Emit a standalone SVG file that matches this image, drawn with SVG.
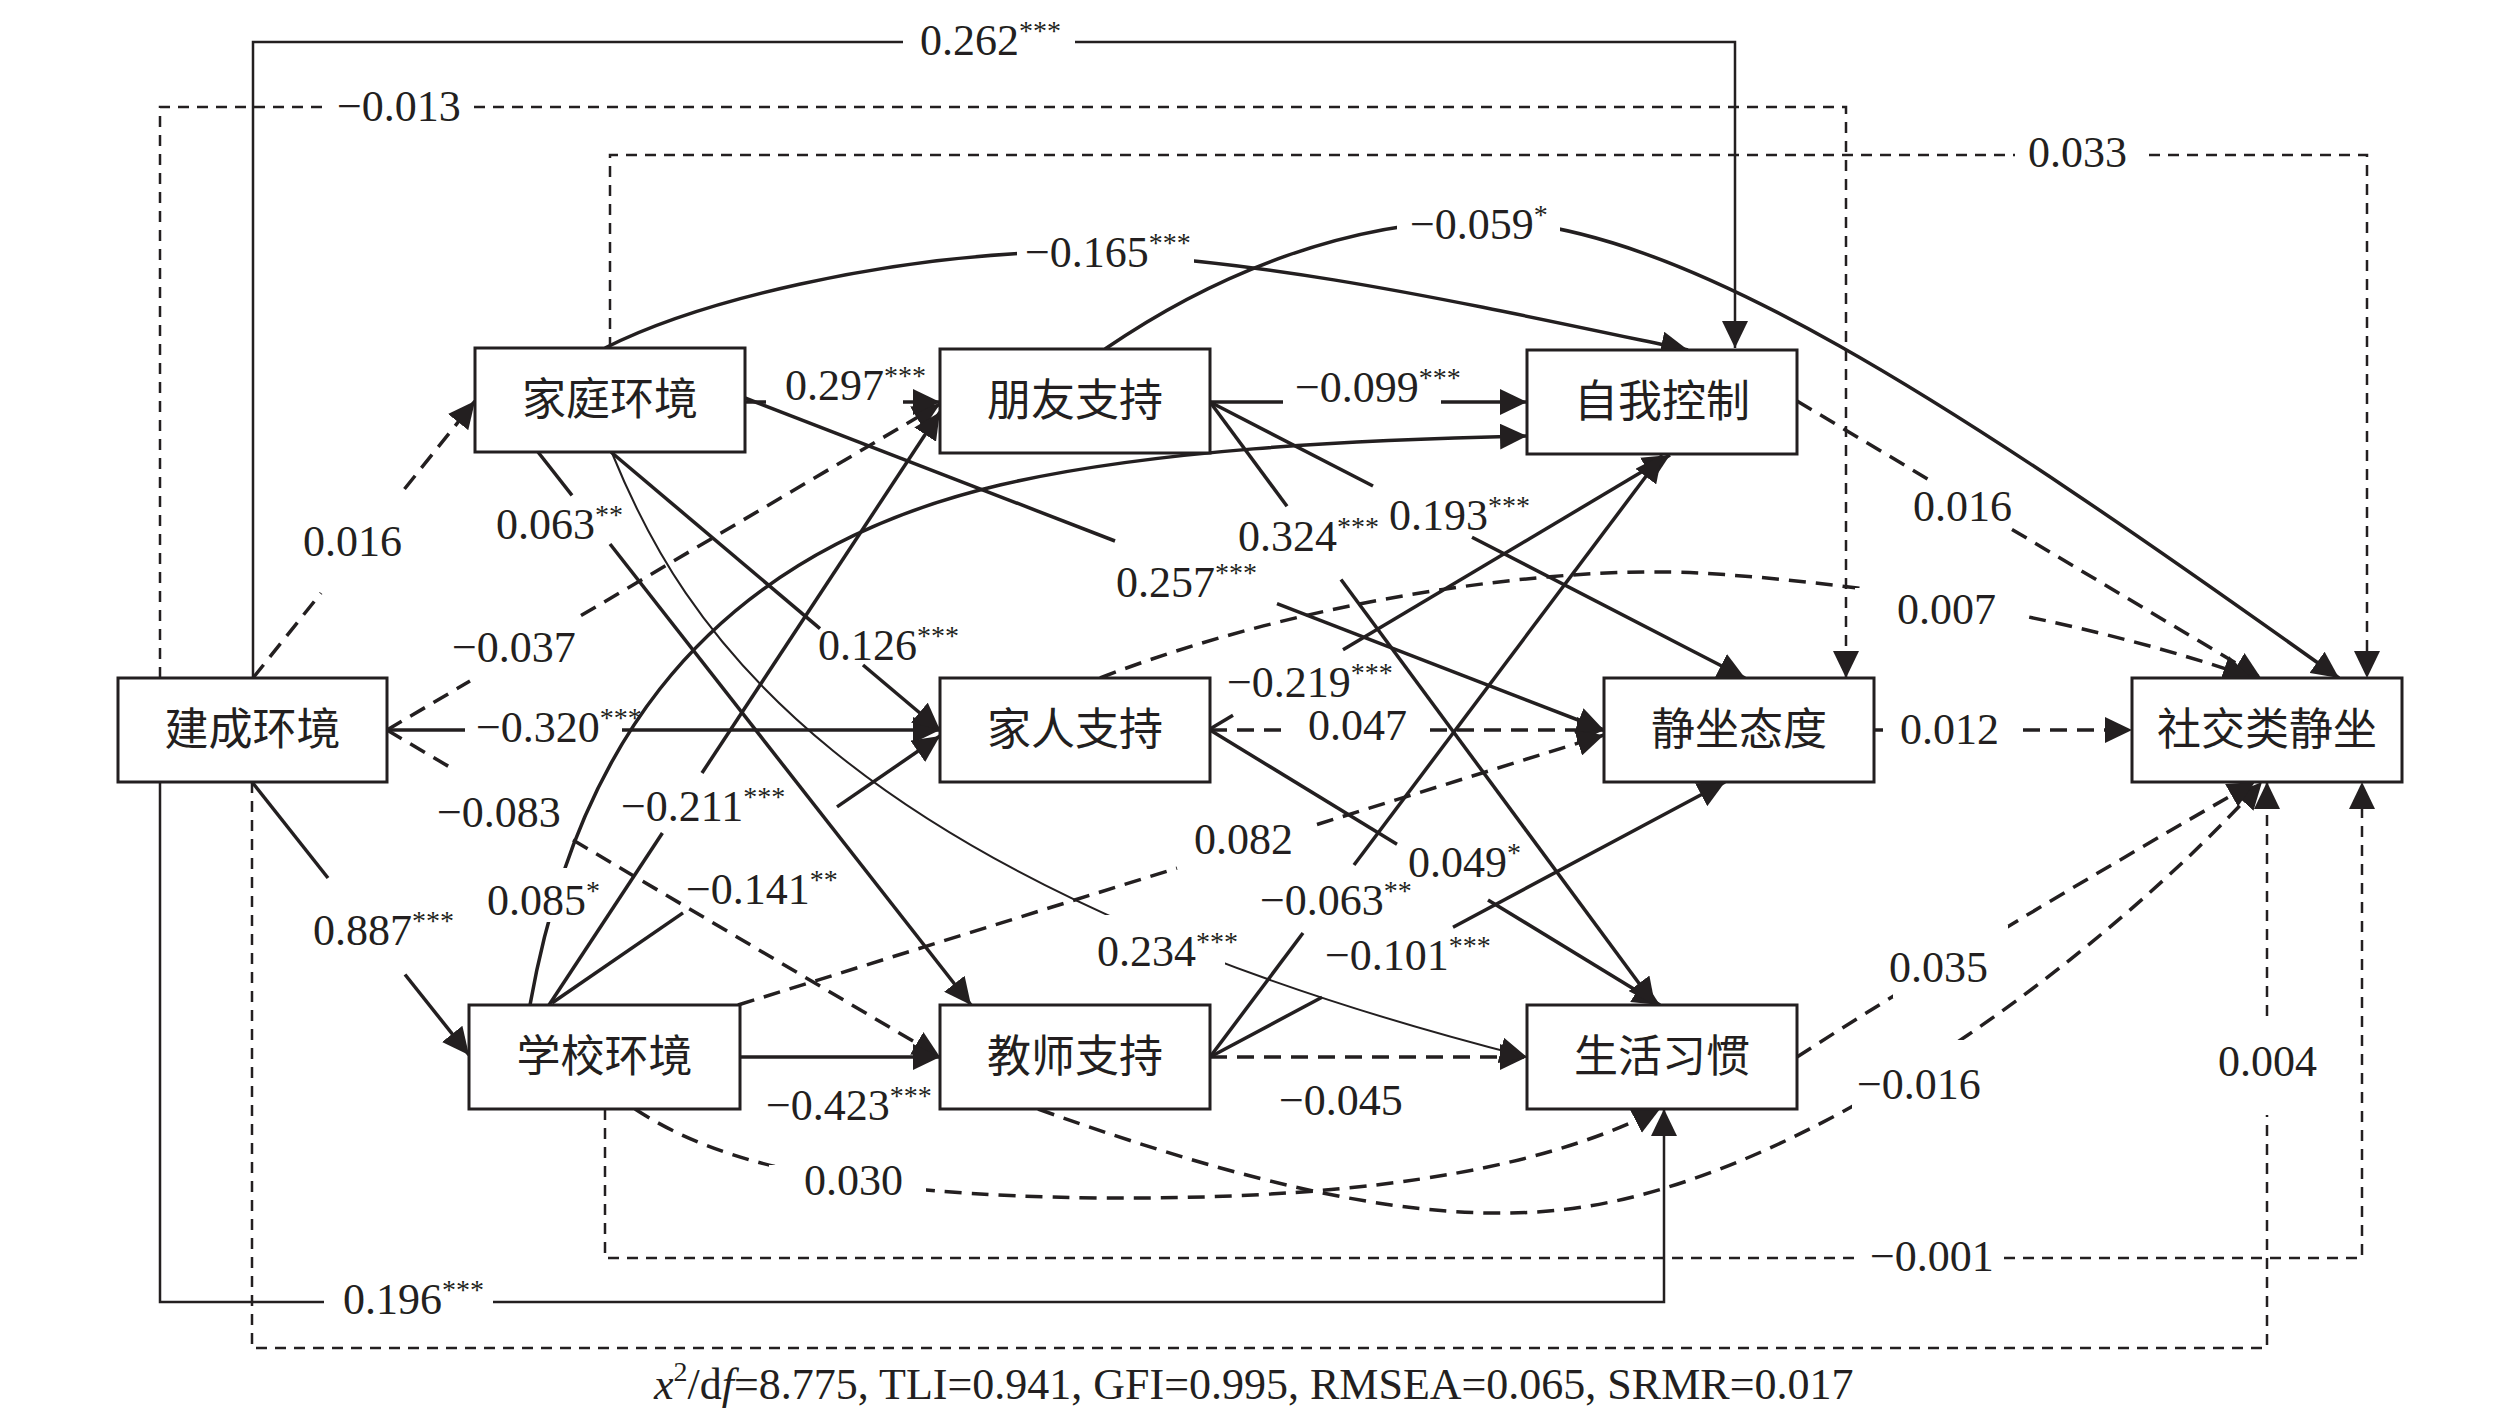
<svg xmlns="http://www.w3.org/2000/svg" width="2520" height="1419" viewBox="0 0 2520 1419">
<style>
.s{fill:none;stroke:#231f20;stroke-width:3.5}
.d{fill:none;stroke:#231f20;stroke-width:3.5;stroke-dasharray:17 10}
.st{fill:none;stroke:#231f20;stroke-width:2.5}
.dt{fill:none;stroke:#231f20;stroke-width:2.5;stroke-dasharray:11 8}
.thin{fill:none;stroke:#231f20;stroke-width:2}
.gap{fill:#fff;stroke:none}
.lbl{font-family:"Liberation Serif","Times New Roman",serif;font-size:44px;fill:#231f20}
.sup{font-size:28px}
.node rect{fill:#fff;stroke:#231f20;stroke-width:3}
.node text{font-family:"Noto Sans CJK SC","Noto Sans CJK JP",sans-serif;font-size:44px;text-anchor:middle;fill:#231f20}
</style>
<defs>
<marker id="ah" viewBox="0 0 27 26" refX="27" refY="13" markerWidth="27" markerHeight="26" markerUnits="userSpaceOnUse" orient="auto">
<path d="M0,0 L27,13 L0,26 Z" fill="#231f20"/>
</marker>
</defs>
<rect width="2520" height="1419" fill="#fff"/>
<g id="connectors">
<!-- routed edges -->
<path class="st" d="M253,678 V42 H903"/><path class="st" d="M1075,42 H1735 V348" marker-end="url(#ah)"/>
<path class="dt" d="M160,678 V107 H330"/><path class="dt" d="M474,107 H1846 V678" marker-end="url(#ah)"/>
<path class="dt" d="M610,348 V155 H2015"/><path class="dt" d="M2149,155 H2367 V678" marker-end="url(#ah)"/>
<path class="st" d="M160,782 V1302 H324"/><path class="st" d="M493,1302 H1664 V1109" marker-end="url(#ah)"/>
<path class="dt" d="M252,782 V1348 H2267 V1115"/><path class="dt" d="M2267,1016 V782" marker-end="url(#ah)"/>
<path class="dt" d="M605,1109 V1258 H1860"/><path class="dt" d="M2004,1258 H2362 V782" marker-end="url(#ah)"/>
<!-- straight edges -->
<path class="d" d="M253,678 L321,593"/><path class="d" d="M404.5,489 L475,401" marker-end="url(#ah)"/>
<path class="s" d="M252,782 L328,878"/><path class="s" d="M405,974.5 L469,1055" marker-end="url(#ah)"/>
<path class="s" d="M387,730 H465"/><path class="s" d="M622,730 H940" marker-end="url(#ah)"/>
<path class="d" d="M387,730 L470,681"/><path class="d" d="M581,615.6 L940,404" marker-end="url(#ah)"/>
<path class="d" d="M387,730 L453,769"/><path class="d" d="M573,840 L940,1057" marker-end="url(#ah)"/>
<path class="s" d="M745,402 H766"/><path class="s" d="M903,402 H940" marker-end="url(#ah)"/>
<path class="s" d="M1210,402 H1283"/><path class="s" d="M1441,402 H1527" marker-end="url(#ah)"/>
<path class="d" d="M1797,401 L1932,481.6"/><path class="d" d="M2012,529.4 L2261,678" marker-end="url(#ah)"/>
<path class="d" d="M1874,730 H1883"/><path class="d" d="M2023,730 H2132" marker-end="url(#ah)"/>
<path class="d" d="M1210,730 H1288"/><path class="d" d="M1430,730 H1604" marker-end="url(#ah)"/>
<path class="s" d="M1210,729 L1233,715.3"/><path class="s" d="M1343,649.8 L1670,455" marker-end="url(#ah)"/>
<path class="s" d="M1210,1057 L1303,933"/><path class="s" d="M1354,865 L1662,455" marker-end="url(#ah)"/>
<path class="s" d="M1210,1057 L1322,997.2"/><path class="s" d="M1453,927.2 L1725,782" marker-end="url(#ah)"/>
<path class="s" d="M1210,730 L1397,844.3"/><path class="s" d="M1488,899.9 L1660,1005" marker-end="url(#ah)"/>
<path class="s" d="M1210,402 L1287,506.3"/><path class="s" d="M1341,579.5 L1655,1005" marker-end="url(#ah)"/>
<path class="s" d="M1210,402 L1373,486"/><path class="s" d="M1472,537.2 L1745,678" marker-end="url(#ah)"/>
<path class="s" d="M745,398 L1115,541"/><path class="s" d="M1277,603.6 L1604,730" marker-end="url(#ah)"/>
<path class="s" d="M611,452 L820,628.6"/><path class="s" d="M863,665 L940,730" marker-end="url(#ah)"/>
<path class="s" d="M538,452 L572,495.4"/><path class="s" d="M610,544 L971,1005" marker-end="url(#ah)"/>
<path class="d" d="M738,1005 L1177,868.1"/><path class="d" d="M1317,824.5 L1604,735" marker-end="url(#ah)"/>
<path class="s" d="M549,1005 L662.4,833"/><path class="s" d="M702,773 L940,412" marker-end="url(#ah)"/>
<path class="s" d="M552,1003 L683,912.9"/><path class="s" d="M837,806.9 L940,736" marker-end="url(#ah)"/>
<path class="s" d="M740,1057 H940" marker-end="url(#ah)"/>
<path class="d" d="M1210,1057 H1527" marker-end="url(#ah)"/>
<!-- curved edges -->
<path class="s" d="M605,348 C700,300 880,258 1050,252 C1250,255 1450,300 1688,350" marker-end="url(#ah)"/>
<path class="s" d="M1105,349 C1220,270 1350,222 1480,220 C1680,222 1950,400 2339,678" marker-end="url(#ah)"/>
<path class="thin" d="M612,453 C680,620 830,880 1527,1057" marker-end="url(#ah)"/>
<path class="s" d="M530,1005 C570,780 680,560 1000,485 C1150,450 1350,440 1527,436" marker-end="url(#ah)"/>
<path class="d" d="M635,1109 C720,1165 850,1195 1100,1198 C1400,1200 1560,1160 1660,1109" marker-end="url(#ah)"/>
<path class="d" d="M1038,1109 C1250,1185 1420,1225 1560,1210 C1800,1185 2100,960 2262,782" marker-end="url(#ah)"/>
<path class="d" d="M1797,1057 C1900,990 2100,870 2255,782" marker-end="url(#ah)"/>
<path class="d" d="M1100,678 C1300,600 1550,565 1700,573 C1900,585 2100,625 2250,677" marker-end="url(#ah)"/>
<!-- label gaps on curves -->
<rect class="gap" x="1017" y="238" width="177" height="30"/>
<rect class="gap" x="1397" y="208" width="163" height="34"/>
<rect class="gap" x="1080" y="915" width="145" height="57"/>
<rect class="gap" x="545" y="868" width="35" height="54"/>
<rect class="gap" x="769" y="1165" width="157" height="36"/>
<rect class="gap" x="1852" y="1040" width="114" height="73"/>
<rect class="gap" x="1893" y="925" width="115" height="73"/>
<rect class="gap" x="1855" y="588" width="165" height="40"/>
</g>
<g id="labels" class="lbl">
<text x="920" y="55">0.262<tspan class="sup" dy="-15">***</tspan></text>
<text x="337" y="121">−0.013</text>
<text x="2028" y="167">0.033</text>
<text x="1025" y="267">−0.165<tspan class="sup" dy="-15">***</tspan></text>
<text x="1410" y="239">−0.059<tspan class="sup" dy="-15">*</tspan></text>
<text x="303" y="556">0.016</text>
<text x="496" y="539">0.063<tspan class="sup" dy="-15">**</tspan></text>
<text x="452" y="662">−0.037</text>
<text x="785" y="400">0.297<tspan class="sup" dy="-15">***</tspan></text>
<text x="1295" y="402">−0.099<tspan class="sup" dy="-15">***</tspan></text>
<text x="1238" y="551">0.324<tspan class="sup" dy="-15">***</tspan></text>
<text x="1389" y="530">0.193<tspan class="sup" dy="-15">***</tspan></text>
<text x="1116" y="597">0.257<tspan class="sup" dy="-15">***</tspan></text>
<text x="818" y="660">0.126<tspan class="sup" dy="-15">***</tspan></text>
<text x="476" y="742">−0.320<tspan class="sup" dy="-15">***</tspan></text>
<text x="1227" y="697">−0.219<tspan class="sup" dy="-15">***</tspan></text>
<text x="1308" y="740">0.047</text>
<text x="1900" y="744">0.012</text>
<text x="1913" y="521">0.016</text>
<text x="1897" y="624">0.007</text>
<text x="437" y="827">−0.083</text>
<text x="621" y="821">−0.211<tspan class="sup" dy="-15">***</tspan></text>
<text x="487" y="915">0.085<tspan class="sup" dy="-15">*</tspan></text>
<text x="686" y="904">−0.141<tspan class="sup" dy="-15">**</tspan></text>
<text x="313" y="945">0.887<tspan class="sup" dy="-15">***</tspan></text>
<text x="1194" y="854">0.082</text>
<text x="1408" y="877">0.049<tspan class="sup" dy="-15">*</tspan></text>
<text x="1260" y="915">−0.063<tspan class="sup" dy="-15">**</tspan></text>
<text x="1097" y="966">0.234<tspan class="sup" dy="-15">***</tspan></text>
<text x="1325" y="970">−0.101<tspan class="sup" dy="-15">***</tspan></text>
<text x="766" y="1120">−0.423<tspan class="sup" dy="-15">***</tspan></text>
<text x="1279" y="1115">−0.045</text>
<text x="804" y="1195">0.030</text>
<text x="1889" y="982">0.035</text>
<text x="1857" y="1099">−0.016</text>
<text x="2218" y="1076">0.004</text>
<text x="1870" y="1271">−0.001</text>
<text x="343" y="1314">0.196<tspan class="sup" dy="-15">***</tspan></text>
<text x="654" y="1399"><tspan font-style="italic">x</tspan><tspan class="sup" dy="-18">2</tspan><tspan dy="18">/d</tspan><tspan font-style="italic">f</tspan>=8.775, TLI=0.941, GFI=0.995, RMSEA=0.065, SRMR=0.017</text>
</g>
<g id="n-jc" class="node"><rect x="118" y="678" width="269" height="104"/><text x="252.5" y="745">建成环境</text></g>
<g id="n-jt" class="node"><rect x="475" y="348" width="270" height="104"/><text x="610" y="415">家庭环境</text></g>
<g id="n-xx" class="node"><rect x="469" y="1005" width="271" height="104"/><text x="604.5" y="1072">学校环境</text></g>
<g id="n-py" class="node"><rect x="940" y="349" width="270" height="104"/><text x="1075" y="416">朋友支持</text></g>
<g id="n-jr" class="node"><rect x="940" y="678" width="270" height="104"/><text x="1075" y="745">家人支持</text></g>
<g id="n-js" class="node"><rect x="940" y="1005" width="270" height="104"/><text x="1075" y="1072">教师支持</text></g>
<g id="n-zw" class="node"><rect x="1527" y="350" width="270" height="104"/><text x="1662" y="417">自我控制</text></g>
<g id="n-td" class="node"><rect x="1604" y="678" width="270" height="104"/><text x="1739" y="745">静坐态度</text></g>
<g id="n-sh" class="node"><rect x="1527" y="1005" width="270" height="104"/><text x="1662" y="1072">生活习惯</text></g>
<g id="n-sj" class="node"><rect x="2132" y="678" width="270" height="104"/><text x="2267" y="745">社交类静坐</text></g>
</svg>
